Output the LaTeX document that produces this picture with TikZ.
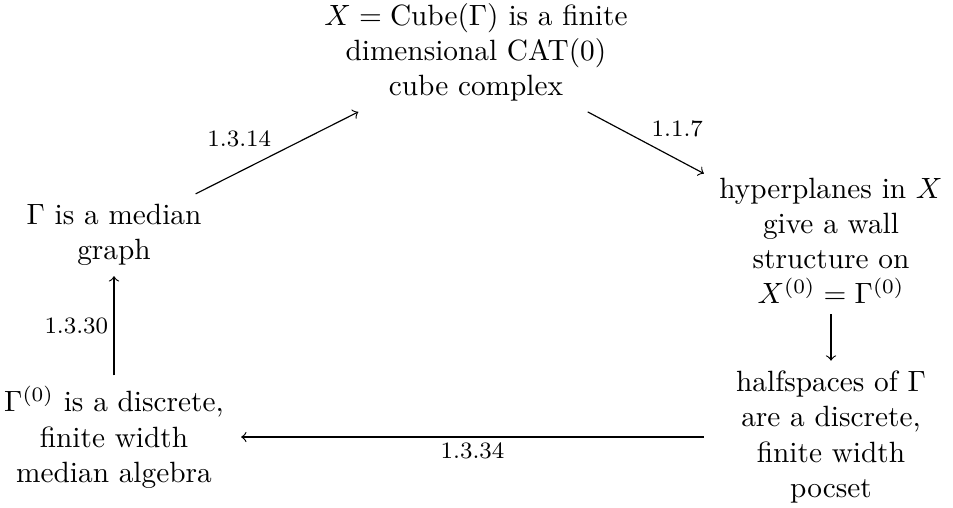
\documentclass[tikz,border=0pt]{standalone}
\usepackage{amsmath}

\begin{document}
\begin{tikzpicture}[every node/.style={align=center},
  box/.style={text width=2.8cm},
  lbl/.style={font=\footnotesize,inner sep=1.8pt}]
\useasboundingbox (0,0) rectangle (11.427,6.091);
\node (cube) at (5.707,5.461) {${X=\mathrm{Cube}(\Gamma)}$ is a finite\\ dimensional $\mathrm{CAT}(0)$\\ cube complex};
\node[box] (median) at (1.367,3.273) {$\Gamma$ is a median\\ graph};
\node[box] (walls) at (9.964,3.201) {hyperplanes in $X$\\ give a wall\\ structure on\\ ${X^{(0)}=\Gamma^{(0)}}$};
\node[box] (pocset) at (9.964,0.851) {halfspaces of $\Gamma$\\ are a discrete,\\ finite width\\ pocset};
\node[box] (algebra) at (1.367,0.851) {$\Gamma^{(0)}$ is a discrete,\\ finite width\\ median algebra};
\draw[->] (median) -- (cube) node[lbl,midway,above left] {1.3.14};
\draw[->] (cube) -- (walls) node[lbl,midway,above right] {1.1.7};
\draw[->] (walls) -- (pocset);
\draw[->] (pocset) -- (algebra) node[lbl,midway,below] {1.3.34};
\draw[->] (algebra) -- (median) node[lbl,midway,left] {1.3.30};
\end{tikzpicture}
\end{document}
